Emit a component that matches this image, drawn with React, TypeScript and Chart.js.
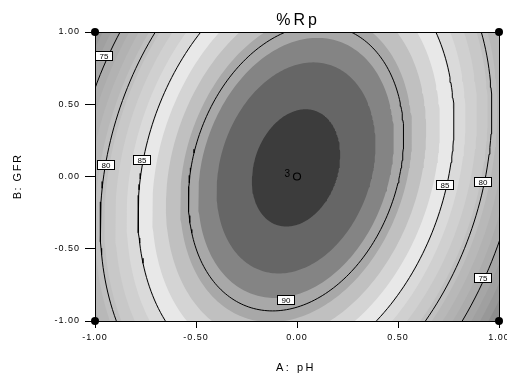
import React, { useEffect, useRef } from "react";
import { Chart, registerables } from "chart.js";

Chart.register(...registerables);

const FONT = "'Liberation Sans', Arial, sans-serif";

const chartTitle = "%Rp";
const xTitle = "A: pH";
const yTitle = "B: GFR";
const tickValues = [-1, -0.5, 0, 0.5, 1];
const tickLabels = ["-1.00", "-0.50", "0.00", "0.50", "1.00"];

// Fitted response-surface model:
// %Rp = b0 + bA*A + bB*B + bAB*A*B + bAA*A^2 + bBB*B^2
const modelCoefs = [94.31, -0.38, 0.57, 3.76, -16.01, -4.64];

// labelled contour lines
const contourLevels = [90, 85, 80, 75];

// shaded bands: region above each level gets the matching shade
const bandLevels = [93.6, 91.97, 90.75, 89.3, 88.0, 86.6, 85.1, 83.6, 82.1, 80.6, 79.2, 77.8, 76.4, 75.0, 73.6, 72.2, 70.8, 60];
const bandShades = [
  "#3c3c3c", "#666666", "#848484", "#a8a8a8", "#c0c0c0", "#d4d4d4", "#e8e8e8", "#dadada", "#d0d0d0",
  "#c8c8c8", "#c0c0c0", "#b8b8b8", "#b2b2b2", "#acacac", "#a6a6a6", "#a0a0a0", "#989898", "#8e8e8e",
];

// contour labels (value, A, B)
const labelText = ["75", "80", "85", "85", "80", "75", "90"];
const labelA = [-0.953, -0.946, -0.765, 0.735, 0.921, 0.921, -0.052];
const labelB = [0.837, 0.083, 0.111, -0.059, -0.038, -0.699, -0.858];

// design points
const designA = [-1, 1, -1, 1];
const designB = [1, 1, -1, -1];
const centerA = [0];
const centerB = [0];
const centerRuns = ["3"];

function contourPoints(level: number, n = 240) {
  const [b0, bA, bB, bAB, bAA, bBB] = modelCoefs;
  const det = 4 * bAA * bBB - bAB * bAB;
  const x0 = (-2 * bBB * bA + bAB * bB) / det;
  const y0 = (-2 * bAA * bB + bAB * bA) / det;
  const fmax = b0 + bA * x0 + bB * y0 + bAB * x0 * y0 + bAA * x0 * x0 + bBB * y0 * y0;
  const r = fmax - level;
  const pts: { x: number; y: number }[] = [];
  if (r <= 0) return pts;
  const a = -bAA;
  const b = -bBB;
  const c = bAB;
  const b2 = b - (c * c) / (4 * a);
  const ra = Math.sqrt(r / a);
  const rb = Math.sqrt(r / b2);
  for (let i = 0; i <= n; i++) {
    const t = (2 * Math.PI * i) / n;
    const p = ra * Math.cos(t);
    const q = rb * Math.sin(t);
    pts.push({ x: x0 + p + (c / (2 * a)) * q, y: y0 + q });
  }
  return pts;
}

const decorPlugin = {
  id: "decor",
  beforeDraw(chart: any) {
    chart.ctx.letterSpacing = "1px";
  },
  afterDatasetsDraw(chart: any) {
    const { ctx, chartArea: ca, scales } = chart;
    const xs = scales.x;
    const ys = scales.y;
    ctx.save();
    ctx.letterSpacing = "0px";
    // frame
    ctx.strokeStyle = "#000";
    ctx.lineWidth = 1;
    ctx.strokeRect(ca.left + 0.5, ca.top + 0.5, ca.right - ca.left, ca.bottom - ca.top);
    // contour labels
    ctx.font = `8px ${FONT}`;
    ctx.textAlign = "center";
    ctx.textBaseline = "middle";
    for (let i = 0; i < labelText.length; i++) {
      const px = Math.round(xs.getPixelForValue(labelA[i]));
      const py = Math.round(ys.getPixelForValue(labelB[i]));
      ctx.fillStyle = "#fff";
      ctx.fillRect(px - 9, py - 5, 18, 10);
      ctx.strokeStyle = "#000";
      ctx.strokeRect(px - 8.5, py - 4.5, 17, 9);
      ctx.fillStyle = "#000";
      ctx.fillText(labelText[i], px, py + 0.5);
    }
    // replicate count at center point
    ctx.font = `10px ${FONT}`;
    ctx.textAlign = "right";
    for (let i = 0; i < centerA.length; i++) {
      const px = xs.getPixelForValue(centerA[i]);
      const py = ys.getPixelForValue(centerB[i]);
      ctx.fillStyle = "#000";
      ctx.fillText(centerRuns[i], px - 7, py - 2);
    }
    ctx.restore();
  },
  afterDraw(chart: any) {
    const { ctx, chartArea: ca } = chart;
    ctx.save();
    ctx.fillStyle = "#000";
    ctx.textBaseline = "alphabetic";
    ctx.textAlign = "center";
    const cx = (ca.left + ca.right) / 2;
    ctx.letterSpacing = "3px";
    ctx.font = `16px ${FONT}`;
    ctx.fillText(chartTitle, cx + 1, ca.top - 7);
    ctx.letterSpacing = "2.5px";
    ctx.font = `11px ${FONT}`;
    ctx.fillText(xTitle, cx - 1, ca.bottom + 50);
    ctx.translate(ca.left - 74, (ca.top + ca.bottom) / 2);
    ctx.rotate(-Math.PI / 2);
    ctx.letterSpacing = "1.5px";
    ctx.fillText(yTitle, 0, 0);
    ctx.restore();
    ctx.letterSpacing = "0px";
  },
};

export default function App() {
  const ref = useRef<HTMLCanvasElement>(null);
  useEffect(() => {
    const datasets: any[] = [];
    datasets.push({
      data: designA.map((a, i) => ({ x: a, y: designB[i] })),
      showLine: false,
      pointRadius: 4,
      pointBackgroundColor: "#000",
      pointBorderColor: "#000",
      pointBorderWidth: 0,
      clip: false,
    });
    datasets.push({
      data: centerA.map((a, i) => ({ x: a, y: centerB[i] })),
      showLine: false,
      pointRadius: 3.5,
      pointBackgroundColor: "rgba(0,0,0,0)",
      pointBorderColor: "#000",
      pointBorderWidth: 1.2,
    });
    contourLevels.forEach((lv) => {
      datasets.push({
        data: contourPoints(lv),
        borderColor: "#000",
        borderWidth: 1,
        pointRadius: 0,
        fill: false,
        tension: 0,
      });
    });
    bandLevels.forEach((lv, i) => {
      datasets.push({
        data: contourPoints(lv),
        borderColor: "rgba(0,0,0,0)",
        borderWidth: 0,
        backgroundColor: bandShades[i],
        pointRadius: 0,
        fill: "shape",
        tension: 0,
      });
    });

    const axisTicks = (extra: any) => ({
      font: { family: FONT, size: 9 },
      color: "#000",
      maxRotation: 0,
      autoSkip: false,
      callback: (v: number) => tickLabels[tickValues.indexOf(v)] ?? "",
      ...extra,
    });

    const chart = new Chart(ref.current!, {
      type: "line",
      data: { datasets },
      plugins: [decorPlugin],
      options: {
        responsive: false,
        animation: false,
        devicePixelRatio: 1,
        layout: { padding: { left: 0, right: 8, top: 32, bottom: 0 } },
        plugins: {
          legend: { display: false },
          tooltip: { enabled: false },
          title: { display: false },
        },
        scales: {
          x: {
            type: "linear",
            min: -1,
            max: 1,
            afterBuildTicks: (s: any) => {
              s.ticks = tickValues.map((v) => ({ value: v }));
            },
            afterFit: (s: any) => {
              s.height = 62;
              s.paddingLeft = 0;
              s.paddingRight = 0;
            },
            ticks: axisTicks({ padding: 4 }),
            grid: { drawOnChartArea: false, drawTicks: true, tickLength: 7, color: "#000" },
            border: { display: true, color: "#000" },
          },
          y: {
            type: "linear",
            min: -1,
            max: 1,
            afterBuildTicks: (s: any) => {
              s.ticks = tickValues.map((v) => ({ value: v }));
            },
            afterFit: (s: any) => {
              s.width = 95;
              s.paddingTop = 0;
              s.paddingBottom = 0;
            },
            ticks: axisTicks({ padding: 5 }),
            grid: { drawOnChartArea: false, drawTicks: true, tickLength: 10, color: "#000" },
            border: { display: true, color: "#000" },
          },
        },
      } as any,
    });
    return () => chart.destroy();
  }, []);
  return (
    <div style={{ position: "fixed", left: 0, top: 0, width: 507, height: 383, background: "#fff" }}>
      <canvas ref={ref} width={507} height={383} style={{ display: "block", width: 507, height: 383 }} />
    </div>
  );
}
